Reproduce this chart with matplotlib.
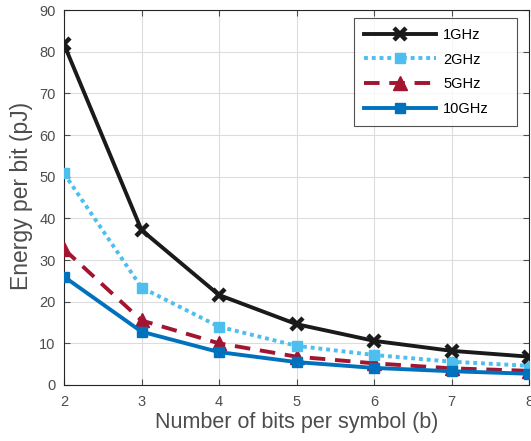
import matplotlib
matplotlib.use("Agg")
import matplotlib.pyplot as plt

bits = [2, 3, 4, 5, 6, 7, 8]
e_1ghz = [81.8, 37.2, 21.6, 14.6, 10.6, 8.2, 6.8]
e_2ghz = [50.8, 23.4, 14.0, 9.4, 7.2, 5.6, 4.6]
e_5ghz = [32.6, 15.5, 10.0, 6.8, 5.2, 4.0, 3.4]
e_10ghz = [26.0, 12.8, 7.9, 5.5, 4.1, 3.3, 2.7]
labels = ["1GHz", "2GHz", "5GHz", "10GHz"]

plt.rcParams['font.family'] = ['Liberation Sans', 'DejaVu Sans']

fig = plt.figure(figsize=(5.31, 4.41), dpi=100)
ax = fig.add_axes([0.1205, 0.127, 0.876, 0.85])

tc = '#4d4d4d'
ax.plot(bits, e_1ghz, color='#1a1a1a', lw=2.8, marker='x', ms=9, mew=3.2,
        label=labels[0], zorder=5)
ax.plot(bits, e_2ghz, color='#4DBEEE', lw=2.8, ls=(0, (1, 1)), marker='s', ms=7.5,
        label=labels[1], zorder=4)
ax.plot(bits, e_5ghz, color='#A2142F', lw=2.8, ls=(0, (4, 2.5)), marker='^', ms=10,
        label=labels[2], zorder=3)
ax.plot(bits, e_10ghz, color='#0072BD', lw=2.8, marker='s', ms=7.5,
        label=labels[3], zorder=6)

ax.set_xlim(2, 8)
ax.set_ylim(0, 90)
ax.set_xticks(bits)
ax.set_yticks(range(0, 91, 10))
ax.grid(True, color='#dcdcdc', lw=0.8)
ax.set_axisbelow(True)
ax.tick_params(direction='in', top=True, right=True, colors=tc, labelsize=10.5,
               labelcolor=tc, length=4)
ax.tick_params(axis='x', pad=7)
ax.tick_params(axis='y', pad=6)
for s in ax.spines.values():
    s.set_color('#262626')
    s.set_linewidth(0.8)
ax.set_xlabel('Number of bits per symbol (b)', fontsize=15.5, color=tc, va='center')
ax.set_ylabel('Energy per bit (pJ)', fontsize=16.5, color=tc, va='center')
ax.xaxis.set_label_coords((297 - 64) / 465.0, (385 - 423) / 375.0)
ax.yaxis.set_label_coords((22 - 64) / 465.0, (385 - 196) / 375.0)

leg_x0 = (354 - 64) / 465.0
leg_w = (517 - 354) / 465.0
leg_top = (385 - 18) / 375.0
leg = ax.legend(loc='upper left', bbox_to_anchor=(leg_x0, 0, leg_w, leg_top),
                mode='expand', borderaxespad=0, fontsize=10.5,
                handlelength=5.0, frameon=True, fancybox=False, edgecolor='#262626',
                borderpad=0.65, labelspacing=0.75, handletextpad=0.45)
leg.get_frame().set_linewidth(0.8)

fig.savefig('out.png', dpi=100)
